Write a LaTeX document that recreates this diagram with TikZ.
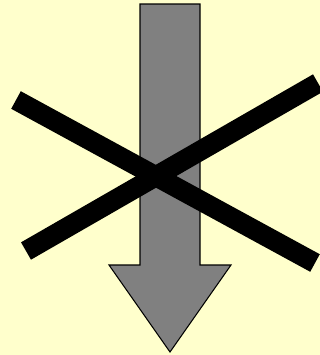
\documentclass[tikz,border=0pt]{standalone}
\usepackage{xcolor}
\usepackage{tikz}
\definecolor{paper}{HTML}{FFFFCC}
\definecolor{arrowgray}{HTML}{808080}

\begin{document}
\begin{tikzpicture}[
          x=0.03cm,y=-0.03cm,
          bigarrow/.style={draw=black,line width=0.9pt,fill=arrowgray,line join=miter},
          crossbar/.style={draw=black,line width=0.6cm,line cap=butt},
      ]
        % background and fixed margins
        \fill[paper] (0,0) rectangle (320,355);
        \useasboundingbox (0,0) rectangle (320,355);

        % downward arrow
        \draw[bigarrow] (140,4) -- (200,4) -- (200,265) -- (231,265)
          -- (170,352) -- (109,265) -- (140,265) -- cycle;

        % the cross
        \coordinate (c1a) at (16,100);
        \coordinate (c1b) at (315,263);
        \coordinate (c2a) at (26,251);
        \coordinate (c2b) at (318,83);
        \draw[crossbar] (c1a) -- (c1b);
        \draw[crossbar] (c2a) -- (c2b);
      \end{tikzpicture}
\end{document}
